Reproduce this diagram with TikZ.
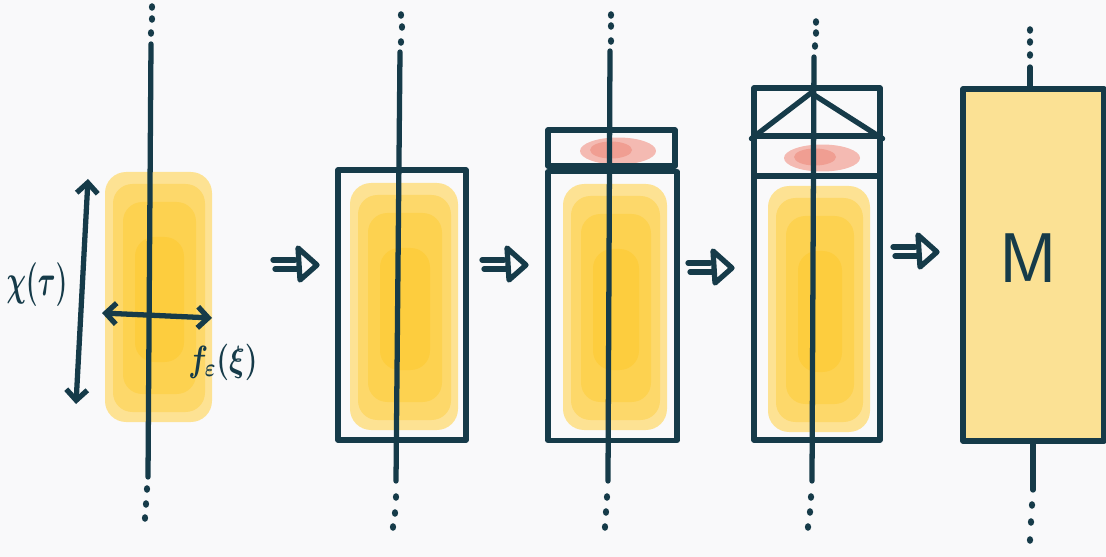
\documentclass[tikz,border=0pt]{standalone}
\usetikzlibrary{arrows.meta,shapes.geometric}
\definecolor{ink}{HTML}{163B49}
\definecolor{bg}{HTML}{F9F9FA}
\definecolor{yA}{HTML}{FDE293}
\definecolor{yB}{HTML}{FDD86A}
\definecolor{yC}{HTML}{FDD250}
\definecolor{yD}{HTML}{FDCD3E}
\definecolor{rA}{HTML}{F4BAB2}
\definecolor{rB}{HTML}{F09E92}
\definecolor{mfill}{HTML}{FBE194}
\tikzset{
  inkline/.style={draw=ink, line width=3pt, line cap=round, line join=round},
  panelbox/.style={inkline, rectangle, inner sep=0pt},
  inkdot/.style={fill=ink, ellipse, inner sep=0pt, minimum width=3.6pt, minimum height=4.4pt},
  barb/.style={inkline, {Straight Barb[length=6pt,width=12pt]}-{Straight Barb[length=6pt,width=12pt]}},
  lbl/.style={text=ink, inner sep=0pt},
  implies/.pic={
    \draw[inkline] (0,-5) -- (22,-5) (2,4) -- (24,4);
    \draw[inkline] (25,-17) -- (44,0) -- (27,15) -- cycle;
  }
}
\newcommand\yblob[4]{%
  \fill[yA, rounded corners=12pt] (#1,#2) rectangle (#3,#4);
  \fill[yB, rounded corners=11pt] ({#1+8},{#2+12}) rectangle ({#3-7},{#4-10});
  \fill[yC, rounded corners=11pt] ({#1+18},{#2+30}) rectangle ({#3-16},{#4-28});
  \fill[yD, rounded corners=11pt] ({#1+30},{#2+65}) rectangle ({#3-28},{#4-60});
}
\newcommand\rblob[2]{%
  \fill[rA] (#1,#2) ellipse [x radius=0.76cm, y radius=0.27cm];
  \fill[rB] ({#1-7},{#2-1}) ellipse [x radius=0.42cm, y radius=0.17cm];
}
\begin{document}
\begin{tikzpicture}[x=0.02cm,y=-0.02cm]
\useasboundingbox (0,0) rectangle (1106,557);
\fill[bg] (0,0) rectangle (1106,557);

% ---------- panel 1 ----------
\yblob{105}{172}{212}{422}
\node[inkdot] (d1a) at (152,7) {};
\node[inkdot] (d1b) at (152,19) {};
\node[inkdot] (d1c) at (151,33) {};
\coordinate (l1t) at (151,44);
\coordinate (l1b) at (148,477);
\draw[inkline] (l1t) -- (l1b);
\node[inkdot] (d1d) at (147,489) {};
\node[inkdot] (d1e) at (146,504) {};
\node[inkdot] (d1f) at (145,518) {};
\coordinate (vt) at (88,179);
\coordinate (vb) at (76,404);
\draw[barb] (vb) -- (vt);
\coordinate (hl) at (102,313);
\coordinate (hr) at (212,318);
\draw[barb] (hl) -- (hr);
\node[lbl, font=\fontsize{23}{26}\selectfont\boldmath] (chi) at (37,285) {\scalebox{0.62}[1]{$\chi(\tau)$}};
\node[lbl, font=\fontsize{22}{26}\selectfont\boldmath] (feps) at (223,362) {\scalebox{0.8}[1]{$f_\varepsilon(\xi)$}};

\pic (a1) at (273,265) {implies};

% ---------- panel 2 ----------
\yblob{350}{183}{458}{430}
\node[panelbox, minimum width=2.56cm, minimum height=5.4cm] (box2) at (402,305) {};
\node[inkdot] (d2a) at (401,15) {};
\node[inkdot] (d2b) at (402,27) {};
\node[inkdot] (d2c) at (401,42) {};
\coordinate (l2t) at (400,52);
\coordinate (l2b) at (396,481);
\draw[inkline] (l2t) -- (l2b);
\node[inkdot] (d2d) at (396,497) {};
\node[inkdot] (d2e) at (395,513) {};
\node[inkdot] (d2f) at (393,527) {};

\pic (a2) at (482,265) {implies};

% ---------- panel 3 ----------
\yblob{563}{184}{667}{430}
\rblob{618}{151}
\node[panelbox, minimum width=2.54cm, minimum height=0.72cm] (top3) at (611.5,148) {};
\node[panelbox, minimum width=2.58cm, minimum height=5.38cm] (box3) at (612.5,306) {};
\node[inkdot] (d3a) at (611,15) {};
\node[inkdot] (d3b) at (611,26) {};
\node[inkdot] (d3c) at (611,41) {};
\coordinate (l3t) at (610,51);
\coordinate (l3b) at (608,481);
\draw[inkline] (l3t) -- (l3b);
\node[inkdot] (d3d) at (607,497) {};
\node[inkdot] (d3e) at (606,512) {};
\node[inkdot] (d3f) at (605,527) {};

\pic (a3) at (688,268) {implies};

% ---------- panel 4 ----------
\yblob{768}{186}{870}{432}
\rblob{822}{158}
\node[panelbox, minimum width=2.52cm, minimum height=0.96cm] (top4) at (817,112) {};
\node[panelbox, minimum width=2.52cm, minimum height=0.8cm] (mid4) at (817,156) {};
\node[panelbox, minimum width=2.52cm, minimum height=5.28cm] (box4) at (817,308) {};
\coordinate (apex) at (811,93);
\draw[inkline] (top4.south west) -- (apex) -- (top4.south east);
\node[inkdot] (d4a) at (816,22) {};
\node[inkdot] (d4b) at (816,33) {};
\node[inkdot] (d4c) at (815,46) {};
\coordinate (l4t) at (814,57);
\coordinate (l4b) at (812,481);
\draw[inkline] (l4t) -- (l4b);
\node[inkdot] (d4d) at (811,497) {};
\node[inkdot] (d4e) at (810,512) {};
\node[inkdot] (d4f) at (808,527) {};

\pic (a4) at (893,252) {implies};

% ---------- panel 5 ----------
\node[inkdot] (d5a) at (1030,30) {};
\node[inkdot] (d5b) at (1030,42) {};
\node[inkdot] (d5c) at (1030,55) {};
\node[panelbox, fill=mfill, minimum width=2.82cm, minimum height=7.04cm] (box5) at (1033.5,265) {};
\coordinate (l5t) at (1030,67);
\draw[inkline] (l5t) -- (l5t |- box5.north);
\coordinate (l5b) at (1033,490);
\draw[inkline] (l5b |- box5.south) -- (l5b);
\node[inkdot] (d5d) at (1032,505) {};
\node[inkdot] (d5e) at (1031,522) {};
\node[inkdot] (d5f) at (1030,540) {};
\node[lbl, font=\fontsize{40}{44}\selectfont\sffamily] (mlbl) at (1028,258) {M};
\end{tikzpicture}
\end{document}
